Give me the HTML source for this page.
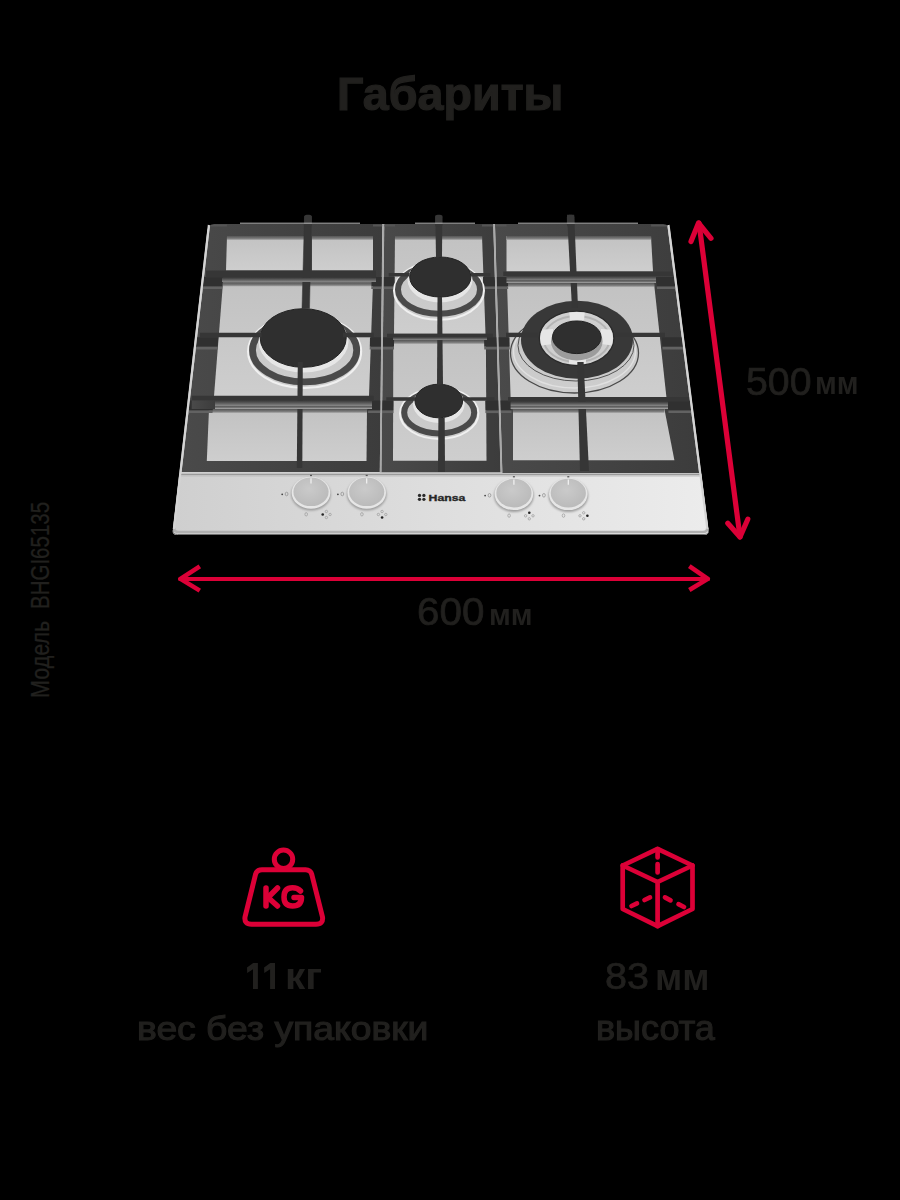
<!DOCTYPE html>
<html><head><meta charset="utf-8">
<style>
html,body{margin:0;padding:0;background:#000;}
body{width:900px;height:1200px;position:relative;overflow:hidden;font-family:"Liberation Sans",sans-serif;color:#21201e;}
.t{position:absolute;white-space:nowrap;line-height:1;transform-origin:0 0;}
svg{position:absolute;left:0;top:0;}
</style></head><body>
<svg width="900" height="1200" viewBox="0 0 900 1200">
<defs>
<linearGradient id="op" x1="0" y1="0" x2="0" y2="1">
<stop offset="0" stop-color="#c2c2c2"/><stop offset="1" stop-color="#cecece"/>
</linearGradient>
<linearGradient id="sh" x1="0" y1="0" x2="0" y2="1">
<stop offset="0" stop-color="#555"/><stop offset="0.6" stop-color="#7a7a7a"/><stop offset="1" stop-color="#b0b0b0"/>
</linearGradient>
<linearGradient id="panel" x1="0" y1="0" x2="1" y2="0">
<stop offset="0" stop-color="#cfcfcf"/><stop offset="0.5" stop-color="#dedede"/><stop offset="1" stop-color="#ececec"/>
</linearGradient>
<linearGradient id="gr" x1="0" y1="0" x2="1" y2="0">
<stop offset="0" stop-color="#4a4a4a"/><stop offset="1" stop-color="#3c3c3c"/>
</linearGradient>
<linearGradient id="fl" x1="0" y1="0" x2="0" y2="1">
<stop offset="0" stop-color="#383838"/><stop offset="0.5" stop-color="#5e5e5e"/><stop offset="1" stop-color="#8a8a8a"/>
</linearGradient>
<radialGradient id="knob" cx="0.45" cy="0.4" r="0.7">
<stop offset="0" stop-color="#cacaca"/><stop offset="1" stop-color="#b8b8b8"/>
</radialGradient>
<clipPath id="wokclip"><ellipse cx="576.6" cy="338.3" rx="36.4" ry="26.3"/></clipPath>
<filter id="blur" x="-20%" y="-20%" width="140%" height="140%"><feGaussianBlur stdDeviation="1.2"/></filter>
</defs>
<path d="M208.1,224 L669.2,224 L708.4,530 Q709.0,535 704.0,535 L177.3,535 Q172.3,535 172.9,530 Z" fill="#cfcfcf"/>
<polygon points="210.1,224.0 382.3,224.0 379.8,472.0 181.6,472.0" fill="url(#gr)" />
<polygon points="384.3,224.0 493.2,224.0 500.6,472.3 381.4,472.3" fill="url(#gr)" />
<polygon points="495.0,224.0 667.2,224.0 699.1,473.0 502.4,473.0" fill="url(#gr)" />
<polygon points="227.0,236.0 304.0,236.0 304.0,270.5 226.0,270.5" fill="url(#op)" />
<polygon points="227.0,236.0 304.0,236.0 304.0,240.0 227.0,240.0" fill="url(#sh)" />
<polygon points="312.0,236.0 373.0,236.0 373.0,270.5 312.0,270.5" fill="url(#op)" />
<polygon points="312.0,236.0 373.0,236.0 373.0,240.0 312.0,240.0" fill="url(#sh)" />
<polygon points="223.0,282.5 373.0,282.5 369.0,396.0 214.0,396.0" fill="url(#op)" />
<polygon points="223.0,282.5 373.0,282.5 373.0,286.5 223.0,286.5" fill="url(#sh)" />
<polygon points="209.0,409.0 367.0,409.0 366.5,461.0 206.8,461.0" fill="url(#op)" />
<polygon points="209.0,409.0 367.0,409.0 367.0,413.0 209.0,413.0" fill="url(#sh)" />
<polygon points="395.0,236.0 482.0,236.0 485.5,333.7 394.0,333.7" fill="url(#op)" />
<polygon points="395.0,236.0 482.0,236.0 482.0,240.0 395.0,240.0" fill="url(#sh)" />
<polygon points="393.3,340.0 485.9,340.0 486.5,460.7 393.0,460.7" fill="url(#op)" />
<polygon points="393.3,340.0 485.9,340.0 485.9,344.0 393.3,344.0" fill="url(#sh)" />
<polygon points="506.5,236.0 651.0,236.0 653.0,271.5 506.5,271.5" fill="url(#op)" />
<polygon points="506.5,236.0 651.0,236.0 651.0,240.0 506.5,240.0" fill="url(#sh)" />
<polygon points="507.0,283.0 654.0,283.0 666.4,397.0 510.6,397.0" fill="url(#op)" />
<polygon points="507.0,283.0 654.0,283.0 654.0,287.0 507.0,287.0" fill="url(#sh)" />
<polygon points="513.0,409.0 664.4,409.0 674.4,460.3 513.0,460.3" fill="url(#op)" />
<polygon points="513.0,409.0 664.4,409.0 664.4,413.0 513.0,413.0" fill="url(#sh)" />
<polygon points="204.0,277.0 222.9,277.0 222.2,286.5 202.9,286.5" fill="#303030" />
<polygon points="202.9,286.5 222.2,286.5 222.0,289.1 202.6,289.1" fill="#626262" />
<polygon points="197.1,337.3 218.3,337.3 217.6,346.8 196.0,346.8" fill="#303030" />
<polygon points="196.0,346.8 217.6,346.8 217.4,349.4 195.7,349.4" fill="#626262" />
<polygon points="189.8,400.5 213.5,400.5 212.7,410.5 188.7,410.5" fill="#303030" />
<polygon points="188.7,410.5 212.7,410.5 212.5,413.1 188.4,413.1" fill="#626262" />
<polygon points="210.1,224.5 227.0,224.5 226.8,226.5 209.8,226.5" fill="#555" />
<polygon points="371.6,277.0 381.8,277.0 381.7,286.5 371.4,286.5" fill="#303030" />
<polygon points="371.4,286.5 381.7,286.5 381.6,289.1 371.3,289.1" fill="#626262" />
<polygon points="370.0,337.3 381.2,337.3 381.1,346.8 369.8,346.8" fill="#303030" />
<polygon points="369.8,346.8 381.1,346.8 381.0,349.4 369.7,349.4" fill="#626262" />
<polygon points="368.4,400.5 380.5,400.5 380.4,410.5 368.1,410.5" fill="#303030" />
<polygon points="368.1,410.5 380.4,410.5 380.4,413.1 368.0,413.1" fill="#626262" />
<polygon points="373.0,224.5 382.3,224.5 382.3,226.5 372.9,226.5" fill="#555" />
<polygon points="383.7,277.0 394.6,277.0 394.5,286.5 383.6,286.5" fill="#303030" />
<polygon points="383.6,286.5 394.5,286.5 394.5,289.1 383.5,289.1" fill="#626262" />
<polygon points="383.0,337.3 394.1,337.3 394.0,346.8 382.9,346.8" fill="#303030" />
<polygon points="382.9,346.8 394.0,346.8 394.0,349.4 382.8,349.4" fill="#626262" />
<polygon points="382.2,400.5 393.6,400.5 393.5,410.5 382.1,410.5" fill="#303030" />
<polygon points="382.1,410.5 393.5,410.5 393.5,413.1 382.1,413.1" fill="#626262" />
<polygon points="384.3,224.5 395.0,224.5 395.0,226.5 384.3,226.5" fill="#555" />
<polygon points="483.0,277.0 494.8,277.0 495.1,286.5 483.1,286.5" fill="#303030" />
<polygon points="483.1,286.5 495.1,286.5 495.1,289.1 483.2,289.1" fill="#626262" />
<polygon points="484.1,337.3 496.6,337.3 496.9,346.8 484.2,346.8" fill="#303030" />
<polygon points="484.2,346.8 496.9,346.8 496.9,349.4 484.3,349.4" fill="#626262" />
<polygon points="485.2,400.5 498.5,400.5 498.8,410.5 485.4,410.5" fill="#303030" />
<polygon points="485.4,410.5 498.8,410.5 498.8,413.1 485.4,413.1" fill="#626262" />
<polygon points="482.0,224.5 493.2,224.5 493.3,226.5 482.0,226.5" fill="#555" />
<polygon points="496.6,277.0 507.9,277.0 508.1,286.5 496.9,286.5" fill="#303030" />
<polygon points="496.9,286.5 508.1,286.5 508.2,289.1 496.9,289.1" fill="#626262" />
<polygon points="498.4,337.3 509.5,337.3 509.7,346.8 498.7,346.8" fill="#303030" />
<polygon points="498.7,346.8 509.7,346.8 509.8,349.4 498.7,349.4" fill="#626262" />
<polygon points="500.3,400.5 511.1,400.5 511.4,410.5 500.6,410.5" fill="#303030" />
<polygon points="500.6,410.5 511.4,410.5 511.5,413.1 500.6,413.1" fill="#626262" />
<polygon points="495.0,224.5 506.5,224.5 506.6,226.5 495.1,226.5" fill="#555" />
<polygon points="655.9,277.0 674.0,277.0 675.2,286.5 656.8,286.5" fill="#303030" />
<polygon points="656.8,286.5 675.2,286.5 675.6,289.1 657.0,289.1" fill="#626262" />
<polygon points="661.5,337.3 681.7,337.3 683.0,346.8 662.4,346.8" fill="#303030" />
<polygon points="662.4,346.8 683.0,346.8 683.3,349.4 662.6,349.4" fill="#626262" />
<polygon points="667.4,400.5 689.8,400.5 691.1,410.5 668.3,410.5" fill="#303030" />
<polygon points="668.3,410.5 691.1,410.5 691.4,413.1 668.5,413.1" fill="#626262" />
<polygon points="651.0,224.5 667.3,224.5 667.6,226.5 651.2,226.5" fill="#555" />
<line x1="383.3" y1="224" x2="380.6" y2="472.5" stroke="#a8a8a8" stroke-width="1.6"/>
<line x1="494.1" y1="224" x2="501.5" y2="472.5" stroke="#a8a8a8" stroke-width="1.6"/>
<ellipse cx="304.6" cy="351.5" rx="56.5" ry="36.5" fill="none" stroke="#f0f0f0" stroke-width="2.2"/>
<ellipse cx="304.6" cy="350.3" rx="52.1" ry="31.6" fill="none" stroke="#4a4a4a" stroke-width="6.8"/>
<ellipse cx="303.5" cy="341.5" rx="45.0" ry="31.0" fill="#e6e6e6" />
<ellipse cx="303.2" cy="338.0" rx="43.0" ry="29.3" fill="#2f2f2f" stroke="#222" stroke-width="1"/>
<ellipse cx="439.0" cy="290.8" rx="45.0" ry="29.0" fill="none" stroke="#f0f0f0" stroke-width="2"/>
<ellipse cx="439.0" cy="289.5" rx="41.0" ry="24.2" fill="none" stroke="#4a4a4a" stroke-width="6"/>
<ellipse cx="440.0" cy="280.0" rx="32.5" ry="22.5" fill="#e6e6e6" />
<ellipse cx="440.3" cy="277.0" rx="30.6" ry="20.0" fill="#2f2f2f" stroke="#222" stroke-width="1"/>
<ellipse cx="439.2" cy="413.6" rx="39.2" ry="25.3" fill="none" stroke="#f0f0f0" stroke-width="2"/>
<ellipse cx="439.2" cy="412.5" rx="35.0" ry="20.9" fill="none" stroke="#4a4a4a" stroke-width="6"/>
<ellipse cx="438.8" cy="404.0" rx="25.8" ry="19.0" fill="#e6e6e6" />
<ellipse cx="438.8" cy="401.0" rx="23.8" ry="16.8" fill="#2f2f2f" stroke="#222" stroke-width="1"/>
<ellipse cx="574.5" cy="353.0" rx="64.0" ry="40.0" fill="none" stroke="#4a4a4a" stroke-width="1.3"/>
<ellipse cx="574.5" cy="351.0" rx="61.0" ry="37.0" fill="none" stroke="#e0e0e0" stroke-width="1.4"/>
<ellipse cx="576.0" cy="345.5" rx="58.0" ry="35.5" fill="none" stroke="#555" stroke-width="1"/>
<ellipse cx="577.0" cy="339.8" rx="56.0" ry="39.0" fill="#383838" />
<ellipse cx="576.6" cy="338.3" rx="37.3" ry="27.2" fill="#cfcfcf" stroke="#2a2a2a" stroke-width="1.3"/>
<ellipse cx="576.6" cy="339.0" rx="33.0" ry="23.0" fill="none" stroke="#b4b4b4" stroke-width="2"/>
<g clip-path="url(#wokclip)">
<polygon points="569.0,310.0 585.0,310.0 584.0,320.0 570.0,320.0" fill="#e6e6e6" />
<polygon points="538.0,330.0 553.0,329.0 553.0,344.0 538.0,346.0" fill="#e6e6e6" />
<polygon points="601.0,329.0 616.0,330.0 616.0,346.0 601.0,344.0" fill="#e6e6e6" />
<polygon points="569.0,357.0 586.0,357.0 586.0,367.0 569.0,367.0" fill="#e6e6e6" />
</g>
<ellipse cx="576.8" cy="341.5" rx="25.8" ry="19.0" fill="#9c9c9c" />
<ellipse cx="576.8" cy="337.3" rx="24.3" ry="16.3" fill="#2f2f2f" stroke="#222" stroke-width="1"/>
<polygon points="304.5,216.0 311.5,216.0 309.5,308.5 302.0,308.5" fill="#363636" stroke="#353535" stroke-width="0.5" stroke-linejoin="round"/>
<polygon points="206.0,270.5 376.0,270.5 376.0,277.5 206.0,277.5" fill="#363636" />
<polygon points="222.0,277.5 376.0,277.5 376.0,282.0 222.0,282.0" fill="url(#fl)" />
<polygon points="199.8,332.7 261.7,332.7 261.7,337.3 199.8,337.3" fill="#363636" />
<polygon points="343.0,332.7 373.7,332.7 373.7,337.3 343.0,337.3" fill="#363636" />
<polygon points="297.8,362.0 302.8,362.0 302.3,468.0 296.8,468.0" fill="#363636" />
<polygon points="191.7,395.7 373.7,395.7 373.7,400.5 191.7,400.5" fill="#363636" />
<polygon points="214.0,400.5 372.0,400.5 372.0,406.0 214.0,406.0" fill="url(#fl)" />
<polygon points="214.0,406.0 372.0,406.0 372.0,409.0 214.0,409.0" fill="url(#sh)" />
<polygon points="191.7,400.5 215.0,400.5 215.0,409.0 191.7,409.0" fill="url(#gr)" />
<polygon points="435.3,215.4 442.3,215.4 442.0,257.0 436.0,257.0" fill="#363636" />
<polygon points="388.7,273.0 409.7,273.0 409.7,276.5 388.7,276.5" fill="#363636" />
<polygon points="471.0,273.0 490.5,273.0 490.5,276.5 471.0,276.5" fill="#363636" />
<polygon points="437.5,297.0 442.0,297.0 443.0,384.4 437.0,384.4" fill="#363636" />
<polygon points="387.0,333.7 493.0,333.7 493.0,337.0 387.0,337.0" fill="#363636" />
<polygon points="393.0,337.0 487.0,337.0 487.0,340.0 393.0,340.0" fill="url(#fl)" />
<polygon points="386.3,397.2 415.0,397.2 415.0,400.8 386.3,400.8" fill="#363636" />
<polygon points="462.6,397.2 494.4,397.2 494.4,400.8 462.6,400.8" fill="#363636" />
<polygon points="438.4,418.0 444.7,418.0 445.0,472.0 438.0,472.0" fill="#363636" />
<polygon points="567.0,214.8 574.2,214.8 578.0,308.0 572.0,308.0" fill="#363636" />
<polygon points="503.3,271.5 673.2,271.5 673.2,276.0 503.3,276.0" fill="#363636" />
<polygon points="506.5,276.0 656.0,276.0 656.0,280.5 506.5,280.5" fill="url(#fl)" />
<polygon points="506.5,280.5 656.0,280.5 656.0,283.0 506.5,283.0" fill="url(#sh)" />
<polygon points="506.0,332.7 538.0,332.7 538.0,337.1 506.0,337.1" fill="#363636" />
<polygon points="615.6,332.7 665.0,332.7 665.0,337.1 615.6,337.1" fill="#363636" />
<polygon points="577.3,362.0 583.6,362.0 589.0,471.0 580.0,471.0" fill="#363636" />
<polygon points="508.0,397.0 689.4,397.0 689.4,401.6 508.0,401.6" fill="#363636" />
<polygon points="510.6,401.6 668.0,401.6 668.0,406.0 510.6,406.0" fill="url(#fl)" />
<polygon points="510.6,406.0 668.0,406.0 668.0,409.0 510.6,409.0" fill="url(#sh)" />
<rect x="304.2" y="214.8" width="7.6" height="12" rx="2.5" fill="#363636"/>
<rect x="435.2" y="214.8" width="7.2" height="12" rx="2.5" fill="#363636"/>
<rect x="566.9" y="214.8" width="7.4" height="12" rx="2.5" fill="#363636"/>
<line x1="240" y1="223.2" x2="360" y2="223.2" stroke="#b8b8b8" stroke-width="1"/>
<line x1="415" y1="223.2" x2="475" y2="223.2" stroke="#b8b8b8" stroke-width="1"/>
<line x1="518" y1="223.2" x2="638" y2="223.2" stroke="#b8b8b8" stroke-width="1"/>
<path d="M205.1,222 L214.1,222 L214.1,224 Q208.7,224.2 207.4,229.5 L205.1,229.5 Z" fill="#000"/>
<path d="M663.2,222 L672.2,222 L670.0,229.5 Q668.6,224.2 663.2,224 Z" fill="#000"/>
<path d="M179.3,474 L701.3,474 L708.3,529 Q709.0,535 704.0,535 L177.3,535 Q172.3,535 173.0,529 Z" fill="url(#panel)"/>
<line x1="179.3" y1="474.3" x2="701.3" y2="474.3" stroke="#9a9a9a" stroke-width="1.2"/>
<line x1="180.3" y1="475.8" x2="700.3" y2="475.8" stroke="#bdbdbd" stroke-width="1.2"/>
<path d="M174.2,528 Q173.7,532 178.7,532 L702.7,532 Q707.7,532 707.1,528" fill="none" stroke="#b0b0b0" stroke-width="2.6"/>
<path d="M172.9,530.5 Q172.4,534.5 177.4,534.5 L704.0,534.5 Q709.0,534.5 708.5,530.5" fill="none" stroke="#6e6e6e" stroke-width="1"/>
<path d="M208.9,225 L173.9,529" stroke="#d4d4d4" stroke-width="2.2" fill="none"/>
<path d="M668.5,225 L707.4,529" stroke="#d4d4d4" stroke-width="2.2" fill="none"/>
<ellipse cx="311.0" cy="494.4" rx="19.8" ry="16.2" fill="#9c9c9c" filter="url(#blur)"/>
<ellipse cx="311.0" cy="492.8" rx="19.3" ry="16.0" fill="#e6e6e6" />
<ellipse cx="311.0" cy="491.8" rx="17.6" ry="14.3" fill="url(#knob)" />
<line x1="311.0" y1="478.2" x2="311.0" y2="483.5" stroke="#f4f4f4" stroke-width="1.2"/>
<rect x="310.0" y="474.8" width="2" height="1.3" fill="#555"/>
<ellipse cx="282.2" cy="494.3" rx="0.9" ry="0.9" fill="#444" />
<ellipse cx="286.6" cy="494.0" rx="1.4" ry="1.8" fill="none" stroke="#8a8a8a" stroke-width="0.7"/>
<ellipse cx="306.2" cy="514.3" rx="1.3" ry="1.7" fill="none" stroke="#999" stroke-width="0.7"/>
<ellipse cx="326.4" cy="511.5" rx="1.2" ry="1.2" fill="none" stroke="#9a9a9a" stroke-width="0.7"/>
<ellipse cx="322.7" cy="514.5" rx="1.3" ry="1.3" fill="#222" />
<ellipse cx="330.1" cy="514.5" rx="1.2" ry="1.2" fill="none" stroke="#9a9a9a" stroke-width="0.7"/>
<ellipse cx="326.4" cy="517.5" rx="1.2" ry="1.2" fill="none" stroke="#9a9a9a" stroke-width="0.7"/>
<ellipse cx="366.7" cy="494.4" rx="19.8" ry="16.2" fill="#9c9c9c" filter="url(#blur)"/>
<ellipse cx="366.7" cy="492.8" rx="19.3" ry="16.0" fill="#e6e6e6" />
<ellipse cx="366.7" cy="491.8" rx="17.6" ry="14.3" fill="url(#knob)" />
<line x1="366.7" y1="478.2" x2="366.7" y2="483.5" stroke="#f4f4f4" stroke-width="1.2"/>
<rect x="365.7" y="474.8" width="2" height="1.3" fill="#555"/>
<ellipse cx="337.9" cy="494.3" rx="0.9" ry="0.9" fill="#444" />
<ellipse cx="342.3" cy="494.0" rx="1.4" ry="1.8" fill="none" stroke="#8a8a8a" stroke-width="0.7"/>
<ellipse cx="361.9" cy="514.3" rx="1.3" ry="1.7" fill="none" stroke="#999" stroke-width="0.7"/>
<ellipse cx="382.1" cy="511.5" rx="1.2" ry="1.2" fill="none" stroke="#9a9a9a" stroke-width="0.7"/>
<ellipse cx="378.4" cy="514.5" rx="1.2" ry="1.2" fill="none" stroke="#9a9a9a" stroke-width="0.7"/>
<ellipse cx="385.8" cy="514.5" rx="1.2" ry="1.2" fill="none" stroke="#9a9a9a" stroke-width="0.7"/>
<ellipse cx="382.1" cy="517.5" rx="1.3" ry="1.3" fill="#222" />
<ellipse cx="513.9" cy="495.7" rx="19.8" ry="16.2" fill="#9c9c9c" filter="url(#blur)"/>
<ellipse cx="513.9" cy="494.1" rx="19.3" ry="16.0" fill="#e6e6e6" />
<ellipse cx="513.9" cy="493.1" rx="17.6" ry="14.3" fill="url(#knob)" />
<line x1="513.9" y1="479.5" x2="513.9" y2="484.8" stroke="#f4f4f4" stroke-width="1.2"/>
<rect x="512.9" y="476.1" width="2" height="1.3" fill="#555"/>
<ellipse cx="485.1" cy="495.6" rx="0.9" ry="0.9" fill="#444" />
<ellipse cx="489.5" cy="495.3" rx="1.4" ry="1.8" fill="none" stroke="#8a8a8a" stroke-width="0.7"/>
<ellipse cx="509.1" cy="515.6" rx="1.3" ry="1.7" fill="none" stroke="#999" stroke-width="0.7"/>
<ellipse cx="529.3" cy="512.8" rx="1.3" ry="1.3" fill="#222" />
<ellipse cx="525.6" cy="515.8" rx="1.2" ry="1.2" fill="none" stroke="#9a9a9a" stroke-width="0.7"/>
<ellipse cx="533.0" cy="515.8" rx="1.2" ry="1.2" fill="none" stroke="#9a9a9a" stroke-width="0.7"/>
<ellipse cx="529.3" cy="518.8" rx="1.2" ry="1.2" fill="none" stroke="#9a9a9a" stroke-width="0.7"/>
<ellipse cx="568.3" cy="495.7" rx="19.8" ry="16.2" fill="#9c9c9c" filter="url(#blur)"/>
<ellipse cx="568.3" cy="494.1" rx="19.3" ry="16.0" fill="#e6e6e6" />
<ellipse cx="568.3" cy="493.1" rx="17.6" ry="14.3" fill="url(#knob)" />
<line x1="568.3" y1="479.5" x2="568.3" y2="484.8" stroke="#f4f4f4" stroke-width="1.2"/>
<rect x="567.3" y="476.1" width="2" height="1.3" fill="#555"/>
<ellipse cx="539.5" cy="495.6" rx="0.9" ry="0.9" fill="#444" />
<ellipse cx="543.9" cy="495.3" rx="1.4" ry="1.8" fill="none" stroke="#8a8a8a" stroke-width="0.7"/>
<ellipse cx="563.5" cy="515.6" rx="1.3" ry="1.7" fill="none" stroke="#999" stroke-width="0.7"/>
<ellipse cx="583.7" cy="512.8" rx="1.2" ry="1.2" fill="none" stroke="#9a9a9a" stroke-width="0.7"/>
<ellipse cx="580.0" cy="515.8" rx="1.2" ry="1.2" fill="none" stroke="#9a9a9a" stroke-width="0.7"/>
<ellipse cx="587.4" cy="515.8" rx="1.3" ry="1.3" fill="#222" />
<ellipse cx="583.7" cy="518.8" rx="1.2" ry="1.2" fill="none" stroke="#9a9a9a" stroke-width="0.7"/>
<g fill="#2a2a2a"><circle cx="419.5" cy="495.4" r="1.65"/><circle cx="419.5" cy="499.3" r="1.65"/><circle cx="423.9" cy="495.4" r="1.65"/><circle cx="423.9" cy="499.3" r="1.65"/></g>
<text x="428.6" y="500.9" font-family="Liberation Sans" font-weight="700" font-size="9.6" fill="#262626" stroke="#262626" stroke-width="0.35" textLength="36.8" lengthAdjust="spacingAndGlyphs">Hansa</text>
<g stroke="#dc0037" stroke-linecap="round" stroke-linejoin="round" fill="none">
<line x1="699" y1="223" x2="740" y2="537" stroke-width="5.2"/>
<polyline points="691,241.5 698.5,223 711,238.3" stroke-width="5.2"/>
<polyline points="727.8,523.3 740,537 747.8,519.2" stroke-width="5.2"/>
<line x1="180" y1="578.9" x2="708" y2="578.9" stroke-width="4"/>
<polyline points="199.8,566.4 180.5,578.9 199.8,590.6" stroke-width="4.6" stroke-linecap="butt"/>
<polyline points="689.3,566.2 707.8,578.9 689.3,590" stroke-width="4.6" stroke-linecap="butt"/>
</g>
<g stroke="#dc0037" fill="none" stroke-width="5.0" stroke-linejoin="round" stroke-linecap="round">
<circle cx="283.5" cy="859.2" r="9.2"/>
<path d="M262,869.8 L305.5,869.8 Q310.5,869.8 311.8,874.5 L322.5,917 Q323.5,924.2 316,924.2 L251.5,924.2 Q244,924.2 245,917 L255.5,874.5 Q256.8,869.8 262,869.8 Z"/>
</g>
<g stroke="#dc0037" fill="none" stroke-width="5.5" stroke-linecap="round" stroke-linejoin="round">
<path d="M266,888 L266,906"/>
<path d="M277.5,888 L268,897.5 L277.5,906"/>
<path d="M300.5,891 Q297.5,887.8 292.5,887.8 Q284,887.8 284,897 Q284,906 292.5,906 Q301.5,906 301.5,897.5 L294,897.5"/>
</g>
<g stroke="#dc0037" fill="none" stroke-width="4.7" stroke-linejoin="round" stroke-linecap="round">
<path d="M657.6,848.8 L692.5,865.5 L692.5,909 L657.6,926.2 L622.7,909 L622.7,865.5 Z"/>
<path d="M622.7,865.5 L657.6,882 L692.5,865.5 M657.6,882 L657.6,926.2"/>
<path d="M657.6,849 L657.6,857.5 M657.6,864 L657.6,872.5 M631.5,906 L637,903.4 M644.5,900 L650,897.4 M665,897.4 L670.5,900.3 M678.5,904.2 L684,907"/>
</g>
<polygon points="247.0,967.4 253.2,963.1 257.9,963.1 257.9,988.9 253.0,988.9 253.0,969.2 247.2,973.1" fill="#21201e" />
<polygon points="264.1,967.4 270.3,963.1 275.0,963.1 275.0,988.9 270.1,988.9 270.1,969.2 264.3,973.1" fill="#21201e" />
</svg>
<div class="t" id="title" style="left:337.18px;top:70.26px;font-size:47.101px;font-weight:700;-webkit-text-stroke:1.2px #21201e;transform:scaleX(0.9902);">Габариты</div>
<div class="t" id="d500" style="left:746.18px;top:363.01px;font-size:38.072px;font-weight:400;-webkit-text-stroke:0.7px #21201e;transform:scaleX(1.0317);">500</div>
<div class="t" id="m500" style="left:814.96px;top:369.1px;font-size:30.891px;font-weight:700;transform:scaleX(0.9528);">мм</div>
<div class="t" id="d600" style="left:416.89px;top:592.87px;font-size:38.21px;font-weight:400;-webkit-text-stroke:0.7px #21201e;transform:scaleX(1.0581);">600</div>
<div class="t" id="m600" style="left:488.6px;top:601.21px;font-size:28.71px;font-weight:700;transform:scaleX(1.0261);">мм</div>
<div class="t" id="k11" style="left:284.7px;top:957.78px;font-size:37.481px;font-weight:700;transform:scaleX(1.0789);">кг</div>
<div class="t" id="d83" style="left:604.54px;top:958.23px;font-size:37.399px;font-weight:400;-webkit-text-stroke:0.7px #21201e;transform:scaleX(1.0577);">83</div>
<div class="t" id="m83" style="left:655.3px;top:959.2px;font-size:37.724px;font-weight:700;transform:scaleX(0.9758);">мм</div>
<div class="t" id="w2" style="left:137.48px;top:1011.67px;font-size:33.423px;font-weight:400;-webkit-text-stroke:1.1px #21201e;transform:scaleX(1.1159);">вес без упаковки</div>
<div class="t" id="h2" style="left:595.81px;top:1011.49px;font-size:34.692px;font-weight:400;-webkit-text-stroke:1.1px #21201e;transform:scaleX(1.0378);">высота</div>
<div class="t" id="model1" style="left:28.00px;top:697.58px;font-size:25.57px;font-weight:400;-webkit-text-stroke:0.3px #21201e;transform:rotate(-90deg) scaleX(0.842);">Модель</div>
<div class="t" id="model2" style="left:28.00px;top:609.40px;font-size:25.57px;font-weight:400;-webkit-text-stroke:0.3px #21201e;transform:rotate(-90deg) scaleX(0.802);">BHGI65135</div>

</body></html>
